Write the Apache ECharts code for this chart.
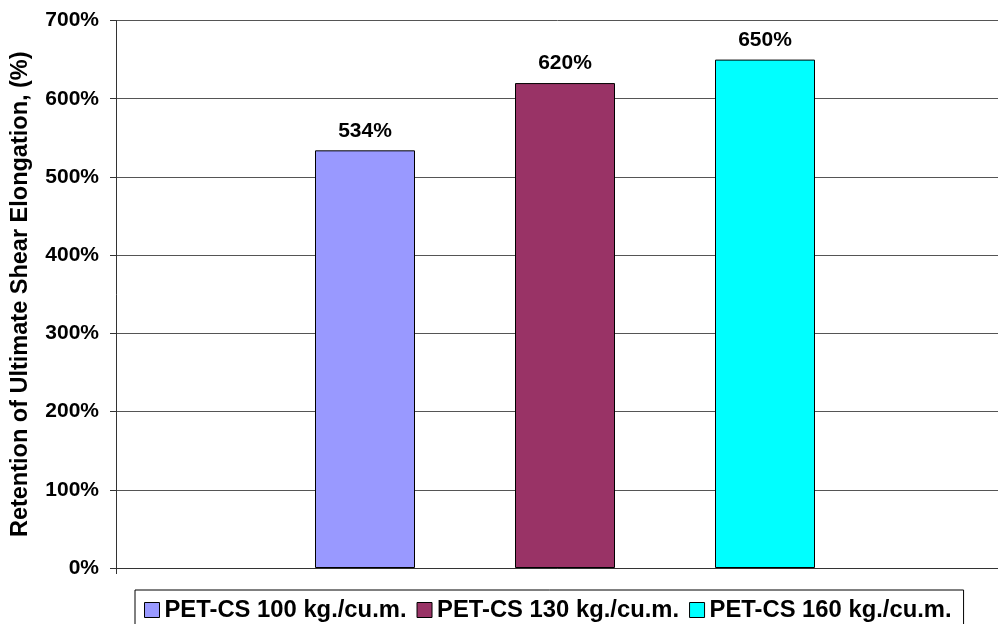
<!DOCTYPE html>
<html>
<head>
<meta charset="utf-8">
<style>
  html, body { margin: 0; padding: 0; background: #fff; }
  #chart { width: 998px; height: 624px; }
</style>
<script src="https://cdn.jsdelivr.net/npm/echarts@6/dist/echarts.min.js"></script>
</head>
<body>
<div id="chart"></div>
<script>
// Retention of ultimate shear elongation by PET-CS dosage
const seriesNames = ['PET-CS 100 kg./cu.m.', 'PET-CS 130 kg./cu.m.', 'PET-CS 160 kg./cu.m.'];
const retentionValues = [534, 620, 650];
const seriesColors = ['#9999FF', '#993366', '#00FFFF'];
const categories = [''];
const yTicks = { min: 0, max: 700, interval: 100 };
const yTitle = 'Retention of Ultimate Shear Elongation, (%)';

const FONT = '"Liberation Sans", Arial, sans-serif';

const chart = echarts.init(document.getElementById('chart'), null, { renderer: 'canvas' });

const series = seriesNames.map((name, i) => ({
  name,
  type: 'bar',
  data: [retentionValues[i]],
  barWidth: 100,
  barGap: '100%',
  itemStyle: { color: seriesColors[i], borderColor: '#000', borderWidth: 1 },
  label: {
    show: true,
    position: 'top',
    distance: 9,
    formatter: '{c}%',
    color: '#000',
    fontFamily: FONT,
    fontWeight: 'bold',
    fontSize: 21
  },
  emphasis: { disabled: true }
}));

chart.setOption({
  animation: false,
  backgroundColor: '#fff',
  // the plot area runs past the right edge of the canvas
  grid: {
    left: 116, right: -16, top: 20.5, bottom: 56,
    containLabel: false,
    outerBoundsMode: 'none'
  },
  xAxis: {
    type: 'category',
    data: categories,
    axisLine: { show: true, lineStyle: { color: '#333', width: 1 } },
    axisTick: { show: true, length: 6, lineStyle: { color: '#333' } },
    axisLabel: { show: false },
    splitLine: { show: false }
  },
  yAxis: {
    type: 'value',
    min: yTicks.min,
    max: yTicks.max,
    interval: yTicks.interval,
    name: yTitle,
    nameLocation: 'middle',
    nameRotate: 90,
    nameGap: 83,
    nameTextStyle: { fontFamily: FONT, fontWeight: 'bold', fontSize: 23.5, color: '#000' },
    axisLine: { show: true, lineStyle: { color: '#333', width: 1 } },
    axisTick: { show: true, length: 6, lineStyle: { color: '#333' } },
    axisLabel: {
      formatter: '{value}%',
      fontFamily: FONT,
      fontWeight: 'bold',
      fontSize: 21,
      color: '#000',
      margin: 17
    },
    splitLine: { show: true, lineStyle: { color: '#555', width: 1 } }
  },
  legend: {
    data: seriesNames,
    left: 135,
    top: 590,
    orient: 'horizontal',
    padding: [8, 12, 20, 9],
    itemGap: 10,
    itemWidth: 15,
    itemHeight: 15,
    icon: 'rect',
    borderColor: '#000',
    borderWidth: 1,
    backgroundColor: '#fff',
    itemStyle: { borderColor: '#000', borderWidth: 1 },
    textStyle: { fontFamily: FONT, fontWeight: 'bold', fontSize: 23.8, color: '#000', lineHeight: 24 },
    selectedMode: false
  },
  series
});
</script>
</body>
</html>
